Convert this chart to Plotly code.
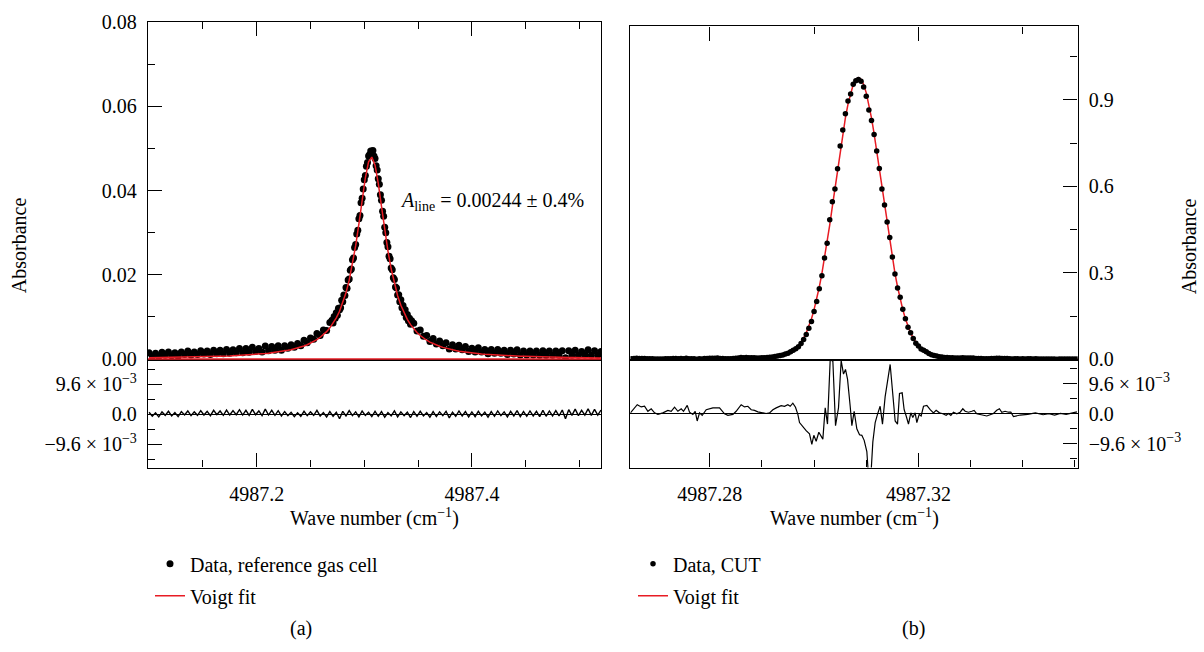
import numpy as np
import plotly.graph_objects as go

# ---------------- panel (a): reference gas cell ----------------
# data sampled at 0.003 cm-1 in the wings and 0.001 cm-1 around the line centre
a_seg_left = (4987.100, 0.003)
a_seg_core = (4987.270, 0.001)
a_seg_right = (4987.346, 0.003)
a_data_left = [
    0.0015, 0.0007, 0.0014, 0.0006, 0.0016, 0.0009, 0.0017, 0.0008, 0.0015, 0.0007,
    0.0017, 0.0011, 0.0019, 0.0010, 0.0017, 0.0011, 0.0020, 0.0012, 0.0019, 0.0011,
    0.0021, 0.0013, 0.0021, 0.0013, 0.0023, 0.0014, 0.0022, 0.0015, 0.0025, 0.0015,
    0.0025, 0.0016, 0.0028, 0.0018, 0.0025, 0.0017, 0.0031, 0.0020, 0.0030, 0.0021,
    0.0032, 0.0021, 0.0032, 0.0026, 0.0034, 0.0028, 0.0037, 0.0032, 0.0045, 0.0039,
    0.0050, 0.0047, 0.0061, 0.0056, 0.0069, 0.0068, 0.0087,
]
a_data_core = [
    0.0092, 0.0086, 0.0101, 0.0097, 0.0110, 0.0104, 0.0121, 0.0117, 0.0122, 0.0140,
    0.0136, 0.0152, 0.0151, 0.0170, 0.0168, 0.0188, 0.0190, 0.0211, 0.0214, 0.0236,
    0.0240, 0.0265, 0.0272, 0.0297, 0.0306, 0.0333, 0.0341, 0.0371, 0.0382, 0.0404,
    0.0426, 0.0436, 0.0458, 0.0467, 0.0482, 0.0486, 0.0494, 0.0489, 0.0495, 0.0482,
    0.0476, 0.0459, 0.0449, 0.0428, 0.0415, 0.0390, 0.0377, 0.0351, 0.0339, 0.0313,
    0.0300, 0.0277, 0.0267, 0.0244, 0.0238, 0.0216, 0.0212, 0.0193, 0.0189, 0.0171,
    0.0169, 0.0152, 0.0153, 0.0136, 0.0141, 0.0122, 0.0127, 0.0110, 0.0117, 0.0099,
    0.0106, 0.0091, 0.0097, 0.0083, 0.0091,
]
a_data_right = [
    0.0085, 0.0067, 0.0069, 0.0054, 0.0056, 0.0042, 0.0049,
    0.0036, 0.0043, 0.0032, 0.0039, 0.0024, 0.0034, 0.0024, 0.0033, 0.0022, 0.0030,
    0.0018, 0.0026, 0.0017, 0.0027, 0.0017, 0.0023, 0.0013, 0.0023, 0.0014, 0.0023,
    0.0014, 0.0021, 0.0011, 0.0021, 0.0012, 0.0022, 0.0010, 0.0019, 0.0010, 0.0019,
    0.0010, 0.0019, 0.0009, 0.0020, 0.0009, 0.0019, 0.0009, 0.0019, 0.0009, 0.0020,
    0.0003, 0.0020, 0.0009, 0.0021, 0.0009, 0.0018, 0.0010, 0.0022, 0.0009, 0.0020,
    0.0009, 0.0018,
]
# fit and residual on a regular 0.003 cm-1 grid
a_fit_start = 4987.100
a_fit_step = 0.003
a_fit = [
    0.00030, 0.00031, 0.00032, 0.00033, 0.00034, 0.00035, 0.00036, 0.00038, 0.00039, 0.00040,
    0.00042, 0.00043, 0.00045, 0.00046, 0.00048, 0.00050, 0.00051, 0.00053, 0.00056, 0.00058,
    0.00060, 0.00063, 0.00065, 0.00068, 0.00071, 0.00074, 0.00078, 0.00082, 0.00085, 0.00090,
    0.00094, 0.00099, 0.00105, 0.00110, 0.00117, 0.00123, 0.00131, 0.00139, 0.00148, 0.00158,
    0.00168, 0.00180, 0.00193, 0.00208, 0.00224, 0.00243, 0.00262, 0.00285, 0.00312, 0.00342,
    0.00376, 0.00416, 0.00461, 0.00518, 0.00578, 0.00652, 0.00742, 0.00846, 0.00980, 0.01137,
    0.01333, 0.01574, 0.01875, 0.02245, 0.02692, 0.03213, 0.03774, 0.04305, 0.04684,
    0.04797, 0.04604, 0.04173, 0.03624, 0.03067, 0.02566, 0.02139, 0.01790, 0.01506, 0.01277,
    0.01092, 0.00942, 0.00818, 0.00716, 0.00631, 0.00560, 0.00500, 0.00448, 0.00404, 0.00366,
    0.00333, 0.00305, 0.00279, 0.00257, 0.00237, 0.00219, 0.00204, 0.00189, 0.00177, 0.00165,
    0.00155, 0.00145, 0.00137, 0.00129, 0.00122, 0.00115, 0.00109, 0.00103, 0.00098, 0.00093,
    0.00089, 0.00084, 0.00080, 0.00077, 0.00073, 0.00070, 0.00067, 0.00065, 0.00062, 0.00059,
    0.00057, 0.00055, 0.00053, 0.00051, 0.00049, 0.00047, 0.00046, 0.00044, 0.00043, 0.00041,
    0.00040, 0.00039, 0.00037, 0.00036, 0.00035, 0.00034, 0.00033, 0.00032, 0.00031, 0.00030,
    0.00029, 0.00029,
]
a_resid = [
    0.0006, -0.0007, 0.0004, -0.0009, 0.0007, -0.0004, 0.0009, -0.0006, 0.0005, -0.0008,
    0.0008, -0.0003, 0.0010, -0.0005, 0.0007, -0.0004, 0.0011, -0.0003, 0.0009, -0.0005,
    0.0012, -0.0002, 0.0010, -0.0004, 0.0013, -0.0003, 0.0011, -0.0002, 0.0014, -0.0003,
    0.0012, -0.0004, 0.0015, -0.0002, 0.0010, -0.0005, 0.0016, -0.0003, 0.0012, -0.0004,
    0.0011, -0.0006, 0.0008, -0.0005, 0.0006, -0.0008, 0.0004, -0.0007, 0.0009, -0.0005,
    0.0007, -0.0004, 0.0012, -0.0006, 0.0005, -0.0009, 0.0008, -0.0007, 0.0006, -0.0015,
    0.0009, -0.0006, 0.0011, -0.0005, 0.0007, -0.0009, 0.0010, -0.0004, 0.0006, -0.0008,
    0.0009, -0.0007, 0.0008, -0.0010, 0.0005, -0.0006, 0.0010, -0.0009, 0.0007, -0.0005,
    0.0006, -0.0011, 0.0008, -0.0007, 0.0009, -0.0006, 0.0005, -0.0010, 0.0008, -0.0008,
    0.0007, -0.0005, 0.0009, -0.0012, 0.0006, -0.0007, 0.0010, -0.0006, 0.0008, -0.0009,
    0.0007, -0.0008, 0.0009, -0.0006, 0.0006, -0.0010, 0.0008, -0.0007, 0.0010, -0.0005,
    0.0007, -0.0009, 0.0009, -0.0006, 0.0011, -0.0008, 0.0008, -0.0007, 0.0010, -0.0006,
    0.0009, -0.0008, 0.0012, -0.0007, 0.0010, -0.0006, 0.0011, -0.0006, 0.0013, -0.0015,
    0.0014, -0.0004, 0.0016, -0.0005, 0.0012, -0.0003, 0.0017, -0.0004, 0.0015, -0.0003,
    0.0013,
]

# ---------------- panel (b): CUT ----------------
b_x_start = 4987.265
b_x_step = 0.0005
b_data = [
    0.0023, 0.0030, 0.0039, 0.0035, 0.0034, 0.0035, 0.0021, 0.0024, 0.0026, 0.0014,
    0.0010, 0.0013, 0.0016, 0.0020, 0.0025, 0.0022, 0.0030, 0.0030, 0.0023, 0.0032,
    0.0024, 0.0039, 0.0023, 0.0018, 0.0023, 0.0001, 0.0022, 0.0015, 0.0029, 0.0035,
    0.0039, 0.0042, 0.0043, 0.0044, 0.0035, 0.0027, 0.0025, 0.0023, 0.0026, 0.0029,
    0.0040, 0.0050, 0.0064, 0.0058, 0.0062, 0.0059, 0.0054, 0.0054, 0.0052, 0.0051,
    0.0053, 0.0056, 0.0062, 0.0072, 0.0085, 0.0100, 0.0114, 0.0134, 0.0152, 0.0183,
    0.0215, 0.0264, 0.0314, 0.0368, 0.0437, 0.0550, 0.0688, 0.0867, 0.1081, 0.1314,
    0.1658, 0.2004, 0.2450, 0.2898, 0.3517, 0.4030, 0.4839, 0.5465, 0.5905, 0.6610,
    0.7394, 0.7950, 0.8512, 0.8959, 0.9202, 0.9538, 0.9662, 0.9703, 0.9641, 0.9445,
    0.9119, 0.8648, 0.8280, 0.7795, 0.7222, 0.6615, 0.5910, 0.5352, 0.4766, 0.4221,
    0.3553, 0.2956, 0.2476, 0.2158, 0.1740, 0.1405, 0.1112, 0.0924, 0.0724, 0.0557,
    0.0462, 0.0361, 0.0317, 0.0261, 0.0202, 0.0159, 0.0135, 0.0119, 0.0095, 0.0081,
    0.0068, 0.0066, 0.0055, 0.0059, 0.0052, 0.0051, 0.0052, 0.0057, 0.0049, 0.0044,
    0.0046, 0.0047, 0.0035, 0.0031, 0.0028, 0.0025, 0.0023, 0.0025, 0.0028, 0.0031,
    0.0036, 0.0041, 0.0029, 0.0031, 0.0027, 0.0026, 0.0012, 0.0019, 0.0022, 0.0017,
    0.0020, 0.0016, 0.0018, 0.0019, 0.0014, 0.0018, 0.0015, 0.0012, 0.0016, 0.0017,
    0.0012, 0.0015, 0.0013, 0.0009, 0.0015, 0.0011, 0.0013, 0.0017, 0.0010, 0.0014,
    0.0012, 0.0016,
]
b_fit = [
    0.00097, 0.00099, 0.00102, 0.00104, 0.00106, 0.00109, 0.00112, 0.00114, 0.00117, 0.00120,
    0.00123, 0.00126, 0.00130, 0.00133, 0.00137, 0.00141, 0.00144, 0.00148, 0.00153, 0.00157,
    0.00162, 0.00166, 0.00171, 0.00177, 0.00182, 0.00188, 0.00194, 0.00200, 0.00207, 0.00213,
    0.00221, 0.00228, 0.00236, 0.00245, 0.00254, 0.00263, 0.00273, 0.00283, 0.00294, 0.00306,
    0.00318, 0.00331, 0.00345, 0.00360, 0.00376, 0.00394, 0.00413, 0.00434, 0.00457, 0.00484,
    0.00514, 0.00551, 0.00595, 0.00650, 0.00718, 0.00807, 0.00923, 0.01075, 0.01275, 0.01539,
    0.01886, 0.02338, 0.02927, 0.03683, 0.04645, 0.05854, 0.07360, 0.09206, 0.11447, 0.14119,
    0.17266, 0.20921, 0.25094, 0.29789, 0.34982, 0.40628, 0.46656, 0.52966, 0.59432, 0.65914,
    0.72235, 0.78228, 0.83704, 0.88480, 0.92395, 0.95303, 0.97095,
    0.97700,
    0.97095, 0.95303, 0.92395, 0.88480, 0.83704, 0.78228, 0.72235, 0.65914, 0.59432, 0.52966,
    0.46656, 0.40628, 0.34982, 0.29789, 0.25094, 0.20921, 0.17266, 0.14119, 0.11447, 0.09206,
    0.07360, 0.05854, 0.04645, 0.03683, 0.02927, 0.02338, 0.01886, 0.01539, 0.01275, 0.01075,
    0.00923, 0.00807, 0.00718, 0.00650, 0.00595, 0.00551, 0.00514, 0.00484, 0.00457, 0.00434,
    0.00413, 0.00394, 0.00376, 0.00360, 0.00345, 0.00331, 0.00318, 0.00306, 0.00294, 0.00283,
    0.00273, 0.00263, 0.00254, 0.00245, 0.00236, 0.00228, 0.00221, 0.00213, 0.00207, 0.00200,
    0.00194, 0.00188, 0.00182, 0.00177, 0.00171, 0.00166, 0.00162, 0.00157, 0.00153, 0.00148,
    0.00144, 0.00141, 0.00137, 0.00133, 0.00130, 0.00126, 0.00123, 0.00120, 0.00117, 0.00114,
    0.00112, 0.00109, 0.00106, 0.00104,
]
b_resid_x = [
    4987.26480, 4987.26528, 4987.26611, 4987.26687, 4987.26751, 4987.26815, 4987.26879, 4987.26943,
    4987.27007, 4987.27102, 4987.27198, 4987.27262, 4987.27326, 4987.27390, 4987.27454, 4987.27498,
    4987.27569, 4987.27613, 4987.27677, 4987.27722, 4987.27760, 4987.27805, 4987.27856, 4987.27933,
    4987.28060, 4987.28188, 4987.28284, 4987.28348, 4987.28444, 4987.28507, 4987.28603, 4987.28667,
    4987.28731, 4987.28795, 4987.28859, 4987.28922, 4987.28986, 4987.29082, 4987.29146, 4987.29210,
    4987.29274, 4987.29369, 4987.29433, 4987.29497, 4987.29542, 4987.29593, 4987.29644, 4987.29689,
    4987.29721, 4987.29785, 4987.29848, 4987.29912, 4987.29957, 4987.29995, 4987.30040, 4987.30091,
    4987.30168, 4987.30213, 4987.30257, 4987.30309, 4987.30360, 4987.30411, 4987.30468, 4987.30519,
    4987.30564, 4987.30602, 4987.30641, 4987.30692, 4987.30724, 4987.30768, 4987.30819, 4987.30871,
    4987.30915, 4987.30960, 4987.31011, 4987.31043, 4987.31088, 4987.31126, 4987.31171, 4987.31215,
    4987.31266, 4987.31311, 4987.31362, 4987.31458, 4987.31509, 4987.31554, 4987.31599, 4987.31637,
    4987.31688, 4987.31726, 4987.31765, 4987.31809, 4987.31854, 4987.31892, 4987.31937, 4987.31969,
    4987.32014, 4987.32052, 4987.32097, 4987.32161, 4987.32225, 4987.32288, 4987.32339, 4987.32403,
    4987.32467, 4987.32531, 4987.32576, 4987.32621, 4987.32671, 4987.32735, 4987.32799, 4987.32850,
    4987.32895, 4987.32959, 4987.33023, 4987.33067, 4987.33118, 4987.33182, 4987.33246, 4987.33310,
    4987.33374, 4987.33438, 4987.33501, 4987.33552, 4987.33597, 4987.33661, 4987.33725, 4987.33770,
    4987.33821, 4987.33950, 4987.34094, 4987.34241, 4987.34389, 4987.34500, 4987.34609, 4987.34720,
    4987.34831, 4987.34943, 4987.35038,
]
b_resid = [
    0.0003, 0.0013, 0.0029, 0.0022, 0.0024, 0.0008, 0.0016, 0.0003,
    -0.0002, 0.0003, 0.0011, 0.0008, 0.0021, 0.0008, 0.0016, 0.0008,
    0.0027, 0.0005, -0.0002, 0.0008, -0.0023, 0.0003, -0.0005, 0.0013,
    0.0019, 0.0019, 0.0000, -0.0005, -0.0002, 0.0008, 0.0029, 0.0022,
    0.0024, 0.0013, 0.0011, 0.0006, 0.0003, 0.0001, 0.0003, 0.0013,
    0.0019, 0.0026, 0.0024, 0.0029, 0.0024, 0.0034, 0.0021, -0.0002,
    -0.0028, -0.0043, -0.0054, -0.0064, -0.0098, -0.0069, -0.0088, -0.0059,
    -0.0081, 0.0019, -0.0033, 0.0173, 0.0168, -0.0038, 0.0019, 0.0170,
    0.0127, 0.0142, 0.0111, 0.0024, -0.0038, 0.0008, -0.0048, -0.0067,
    -0.0069, -0.0085, -0.0121, -0.0200, -0.0200, -0.0090, -0.0028, -0.0002,
    0.0024, -0.0033, 0.0055, 0.0158, 0.0055, -0.0023, -0.0033, 0.0065,
    0.0067, 0.0013, -0.0007, -0.0033, 0.0003, -0.0012, 0.0003, -0.0028,
    -0.0002, -0.0007, 0.0024, 0.0027, 0.0013, 0.0003, 0.0011, 0.0003,
    0.0000, -0.0005, 0.0001, -0.0005, 0.0005, 0.0000, 0.0005, 0.0016,
    0.0008, 0.0005, 0.0008, 0.0011, 0.0000, -0.0002, -0.0005, -0.0007,
    -0.0003, 0.0001, 0.0011, 0.0016, 0.0005, 0.0008, 0.0005, 0.0005,
    -0.0009, -0.0004, -0.0002, 0.0003, -0.0003, 0.0000, -0.0004, 0.0001,
    -0.0002, 0.0003, 0.0006,
]

# tick labels
a_x_ticks = [4987.2, 4987.4]
a_x_ticktext = ["4987.2", "4987.4"]
a_y_ticks = [0.0, 0.02, 0.04, 0.06, 0.08]
a_y_ticktext = ["0.00", "0.02", "0.04", "0.06", "0.08"]
b_x_ticks = [4987.28, 4987.32]
b_x_ticktext = ["4987.28", "4987.32"]
b_y_ticks = [0.0, 0.3, 0.6, 0.9]
b_y_ticktext = ["0.0", "0.3", "0.6", "0.9"]
res_ticks = [-0.0096, 0.0, 0.0096]
res_ticktext = ["\u22129.6 \u00d7 10<sup>\u22123</sup>", "0.0", "9.6 \u00d7 10<sup>\u22123</sup>"]

# sampling grids
a_x = np.concatenate([
    a_seg_left[0] + a_seg_left[1] * np.arange(len(a_data_left)),
    a_seg_core[0] + a_seg_core[1] * np.arange(len(a_data_core)),
    a_seg_right[0] + a_seg_right[1] * np.arange(len(a_data_right)),
])
a_y = a_data_left + a_data_core + a_data_right
a_fx = a_fit_start + a_fit_step * np.arange(len(a_fit))
b_x = b_x_start + b_x_step * np.arange(len(b_data))

# ---------------- layout geometry ----------------
W, H = 1204, 652
def fx(p):
    return p / W
def fy(p):
    return 1 - p / H

FONT = "Liberation Serif"
FS = 20
RED = "rgb(232,28,36)"
LW = 1.3

L0, L1 = 148, 601
R0, R1 = 630.4, 1077.6
TOP_A, TOP_B, MID, BOT = 11.5, 16, 361, 471.7

fig = go.Figure()

fig.add_trace(go.Scatter(x=a_x, y=a_y, mode="markers", xaxis="x2", yaxis="y2",
                         marker=dict(color="black", size=7), name="Data, reference gas cell",
                         legend="legend", legendrank=1, legendgroup="a_d"))
fig.add_trace(go.Scatter(x=a_fx, y=a_fit, mode="lines", xaxis="x2", yaxis="y2",
                         line=dict(color=RED, width=1.5), name="Voigt fit",
                         legend="legend", legendrank=2, legendgroup="a_f"))
fig.add_trace(go.Scatter(x=a_fx, y=a_resid, mode="lines", xaxis="x", yaxis="y",
                         line=dict(color="black", width=1.4), showlegend=False))

fig.add_trace(go.Scatter(x=b_x, y=b_fit, mode="lines", xaxis="x4", yaxis="y6",
                         line=dict(color=RED, width=1.5), name="Voigt fit",
                         legend="legend2", legendrank=2, legendgroup="b_f"))
fig.add_trace(go.Scatter(x=b_x, y=b_data, mode="markers", xaxis="x4", yaxis="y6",
                         marker=dict(color="black", size=5.5), name="Data, CUT",
                         legend="legend2", legendrank=1, legendgroup="b_d"))
fig.add_trace(go.Scatter(x=b_resid_x, y=b_resid, mode="lines", xaxis="x3", yaxis="y5",
                         line=dict(color="black", width=1.2), showlegend=False))

tickfont = dict(family=FONT, size=FS, color="black")
common = dict(showgrid=False, showline=True, linecolor="black",
              linewidth=LW, ticks="inside", tickcolor="black", tickwidth=LW,
              ticklen=14, tickfont=tickfont)

def minor(vals):
    return dict(tickmode="array", tickvals=vals, ticks="inside", ticklen=7,
                tickcolor="black", tickwidth=LW)

a_x_minor = [4987.15, 4987.25, 4987.30, 4987.35, 4987.45, 4987.50]
b_x_minor_bot = [4987.29, 4987.30, 4987.31, 4987.33, 4987.34, 4987.35]
b_x_minor_top = [4987.30, 4987.34]
res_minor = [-0.0144, -0.0048, 0.0048, 0.0144]
a_range_x = [4987.099, 4987.520]
b_range_x = [4987.2648, 4987.3505]
a_res_range = [-0.0171, 0.0172]
b_res_range = [-0.0172, 0.0171]
a_main_range = [-0.0003, 0.08]
b_main_range = [-0.0034, 1.154]

legend_common = dict(xanchor="left", yanchor="top", bgcolor="rgba(0,0,0,0)", borderwidth=0,
                     itemwidth=30, tracegroupgap=3, traceorder="grouped",
                     font=dict(family=FONT, size=FS, color="black"))

fig.update_layout(
    width=W, height=H, margin=dict(l=0, r=0, t=0, b=0),
    paper_bgcolor="white", plot_bgcolor="white",
    font=dict(family=FONT, size=FS, color="black"),
    # ---- panel (a)
    xaxis=dict(domain=[fx(L0), fx(L1)], anchor="y", range=a_range_x,
               tickmode="array", tickvals=a_x_ticks, ticktext=a_x_ticktext,
               minor=minor(a_x_minor), mirror=True, ticklabelstandoff=8,
               zeroline=False, **common),
    xaxis2=dict(domain=[fx(L0), fx(L1)], anchor="y2", range=a_range_x, matches="x",
                side="top", showticklabels=False, tickmode="array", tickvals=a_x_ticks,
                minor=minor(a_x_minor), mirror=True, zeroline=False, **common),
    yaxis=dict(domain=[fy(BOT), fy(MID)], anchor="x", range=a_res_range,
               tickmode="array", tickvals=res_ticks, ticktext=res_ticktext,
               minor=minor(res_minor), mirror=True, ticklabelstandoff=6,
               zeroline=True, zerolinecolor="black", zerolinewidth=1.2, **common),
    yaxis2=dict(domain=[fy(MID), fy(TOP_A)], anchor="x2", range=a_main_range,
                tickmode="array", tickvals=a_y_ticks, ticktext=a_y_ticktext,
                minor=minor([0.01, 0.03, 0.05, 0.07]), mirror=True, ticklabelstandoff=6,
                zeroline=False, **common),
    yaxis3=dict(overlaying="y2", anchor="x2", side="right", range=a_main_range,
                tickmode="array", tickvals=[0.01, 0.02, 0.03, 0.04, 0.05, 0.06, 0.07],
                showticklabels=False, ticks="inside", ticklen=5, tickcolor="black",
                tickwidth=LW, showgrid=False, zeroline=False, showline=False),
    yaxis4=dict(overlaying="y", anchor="x", side="right", range=a_res_range,
                tickmode="array", tickvals=[-0.0144, -0.0096, -0.0048, 0.0048, 0.0096, 0.0144],
                showticklabels=False, ticks="inside", ticklen=5, tickcolor="black",
                tickwidth=LW, showgrid=False, zeroline=False, showline=False),
    # ---- panel (b)
    xaxis3=dict(domain=[fx(R0), fx(R1)], anchor="y5", range=b_range_x,
                tickmode="array", tickvals=b_x_ticks, ticktext=b_x_ticktext,
                minor=minor(b_x_minor_bot), mirror=True, ticklabelstandoff=8,
                zeroline=False, **common),
    xaxis4=dict(domain=[fx(R0), fx(R1)], anchor="y6", range=b_range_x, matches="x3",
                side="top", showticklabels=False, tickmode="array", tickvals=b_x_ticks,
                minor=minor(b_x_minor_top), mirror=True, zeroline=False, **common),
    yaxis5=dict(domain=[fy(BOT), fy(MID)], anchor="x3", side="right", range=b_res_range,
                tickmode="array", tickvals=res_ticks, ticktext=res_ticktext,
                minor=minor(res_minor), mirror=True, ticklabelstandoff=6,
                zeroline=True, zerolinecolor="black", zerolinewidth=1.2, **common),
    yaxis6=dict(domain=[fy(MID), fy(TOP_B)], anchor="x4", side="right", range=b_main_range,
                tickmode="array", tickvals=b_y_ticks, ticktext=b_y_ticktext,
                minor=minor([0.15, 0.45, 0.75, 1.05]), mirror=True, ticklabelstandoff=6,
                zeroline=False, **common),
    legend=dict(x=fx(150), y=fy(551), **legend_common),
    legend2=dict(x=fx(633), y=fy(551), **legend_common),
    showlegend=True,
)

# red baseline at zero in panel (a)
fig.add_shape(type="line", xref="x2 domain", yref="y2", x0=0, x1=1, y0=0, y1=0,
              line=dict(color=RED, width=1.5), layer="above")

ann_font = dict(family=FONT, size=FS, color="black")
annots = [
    dict(text="Absorbance", x=fx(19), y=fy(242), textangle=-90),
    dict(text="Absorbance", x=fx(1189), y=fy(243), textangle=-90),
    dict(text="Wave number (cm<sup>\u22121</sup>)", x=fx((L0 + L1) / 2), y=fy(523)),
    dict(text="Wave number (cm<sup>\u22121</sup>)", x=fx((R0 + R1) / 2), y=fy(523)),
    dict(text="<i>A</i><sub>line</sub> = 0.00244 \u00b1 0.4%", x=fx(398), y=fy(197),
         xanchor="left"),
    dict(text="(a)", x=fx(301), y=fy(638)),
    dict(text="(b)", x=fx(913), y=fy(638)),
]
for a in annots:
    a.setdefault("xanchor", "center")
    fig.add_annotation(xref="paper", yref="paper", showarrow=False, yanchor="middle",
                       font=ann_font, **a)

fig.write_html("out.html", config={"displayModeBar": False},
               post_script="document.body.style.margin='0px';document.body.style.overflow='hidden';")
